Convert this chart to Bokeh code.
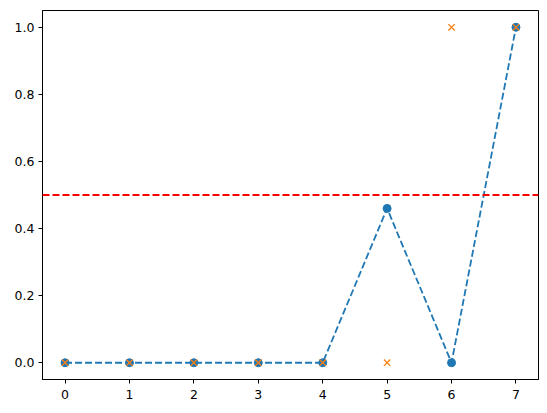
from bokeh.plotting import figure
from bokeh.models import Span, Range1d, FixedTicker, CustomJSTickFormatter
from bokeh.embed import file_html
from bokeh.resources import INLINE

x_vals = [0, 1, 2, 3, 4, 5, 6, 7]
predicted = [0, 0, 0, 0, 0, 0.46, 0, 1]
actual = [0, 0, 0, 0, 0, 0, 1, 1]
threshold = 0.5
x_ticks = [0, 1, 2, 3, 4, 5, 6, 7]
y_ticks = [0.0, 0.2, 0.4, 0.6, 0.8, 1.0]

p = figure(width=539, height=405, output_backend="svg", toolbar_location=None,
           x_range=Range1d(-0.35, 7.35), y_range=Range1d(-0.05, 1.05),
           min_border_left=42, min_border_top=10, min_border_right=1, min_border_bottom=26)

p.xgrid.visible = False
p.ygrid.visible = False
p.outline_line_color = "black"
p.outline_line_alpha = 1.0
p.outline_line_width = 1
p.background_fill_color = "white"
p.border_fill_color = "white"

p.xaxis.ticker = FixedTicker(ticks=x_ticks)
p.yaxis.ticker = FixedTicker(ticks=y_ticks)
p.yaxis.formatter = CustomJSTickFormatter(code="return tick.toFixed(1);")
for ax in (p.xaxis, p.yaxis):
    ax.major_label_text_font = "DejaVu Sans"
    ax.major_label_text_font_size = "12.5px"
    ax.major_label_text_color = "black"
    ax.major_tick_out = 4
    ax.major_tick_in = 0
    ax.minor_tick_out = 0
    ax.minor_tick_in = 0
    ax.major_tick_line_color = "black"
    ax.axis_line_color = "black"
    ax.major_label_standoff = 4
p.xaxis.major_label_standoff = 6

p.line(x_vals, predicted, line_color="#1f77b4", line_width=1.8, line_dash="7 3")
p.scatter(x_vals, predicted, marker="circle", size=8, fill_color="#1f77b4", line_color="#1f77b4")
p.scatter(x_vals, actual, marker="x", size=9, line_color="#ff7f0e", line_width=1.3)

p.add_layout(Span(location=threshold, dimension="width", line_color="#ff0000",
                  line_width=1.8, line_dash="7 3"))

open("out.html", "w").write(file_html(p, INLINE))
